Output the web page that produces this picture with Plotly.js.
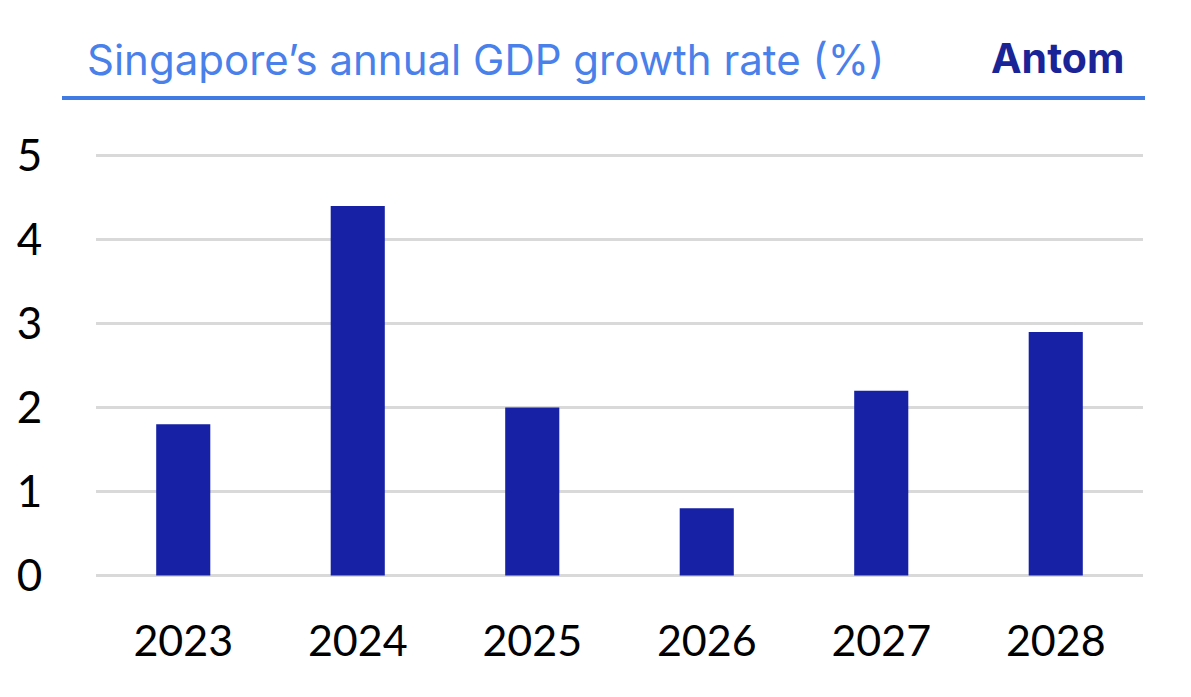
<!DOCTYPE html>
<html>
<head>
<meta charset="utf-8">
<script src="https://cdn.plot.ly/plotly-3.0.1.min.js"></script>
<style>
  html, body { margin: 0; padding: 0; background: #fff; }
  #chart { width: 1191px; height: 697px; }
</style>
</head>
<body>
<div id="chart"></div>
<script>
var years = ['2023', '2024', '2025', '2026', '2027', '2028'];
var growth = [1.8, 4.4, 2.0, 0.8, 2.2, 2.9];
var yTicks = [0, 1, 2, 3, 4, 5];

var titleText = 'Singapore\u2019s annual GDP growth rate (%)';
var logoText = 'Antom';

// plot box in pixels, used to place the header line and texts
// (not called "top": window.top is read-only)
var mLeft = 96, mRight = 48, mTop = 153, mBottom = 119;
var plotW = 1191 - mLeft - mRight;
var plotH = 697 - mTop - mBottom;

function px(x) { return (x - mLeft) / plotW; }
function py(y) { return (697 - mBottom - y) / plotH; }

var trace = {
    x: years,
    y: growth,
    type: 'bar',
    marker: { color: '#1621a6' },
    hoverinfo: 'x+y'
};

var layout = {
    width: 1191,
    height: 697,
    margin: { l: mLeft, r: mRight, t: mTop, b: mBottom },
    paper_bgcolor: '#fff',
    plot_bgcolor: '#fff',
    bargap: 0.69,
    showlegend: false,
    font: { family: 'Lato, "Liberation Sans", sans-serif', color: '#000' },
    xaxis: {
        type: 'category',
        showgrid: false,
        showline: false,
        zeroline: false,
        automargin: false,
        ticks: 'outside',
        ticklen: 25,
        tickcolor: 'rgba(0,0,0,0)',
        tickfont: { size: 43, color: '#000' }
    },
    yaxis: {
        range: [-0.03, 5.03],
        tickvals: yTicks,
        ticktext: yTicks.map(String),
        showgrid: true,
        gridcolor: '#d9d9d9',
        gridwidth: 3,
        zeroline: false,
        showline: false,
        automargin: false,
        ticks: 'outside',
        ticklen: 44,
        tickcolor: 'rgba(0,0,0,0)',
        tickfont: { size: 44, color: '#000' }
    },
    shapes: [{
        type: 'line',
        xref: 'paper', yref: 'paper',
        x0: px(62), x1: px(1145),
        y0: py(98), y1: py(98),
        line: { color: '#3f7be3', width: 4 }
    }],
    annotations: [{
        text: titleText,
        xref: 'paper', yref: 'paper',
        x: px(85), y: py(59),
        xanchor: 'left', yanchor: 'middle',
        showarrow: false,
        font: { family: 'Inter, "Open Sans", sans-serif', size: 42, color: '#4a80ea' }
    }, {
        text: '<b>' + logoText + '</b>',
        xref: 'paper', yref: 'paper',
        x: px(1126), y: py(58),
        xanchor: 'right', yanchor: 'middle',
        showarrow: false,
        font: { family: 'Inter, "Open Sans", sans-serif', size: 41, color: '#1a2496', weight: 800 }
    }]
};

Plotly.newPlot('chart', [trace], layout, { displayModeBar: false, staticPlot: true });
</script>
</body>
</html>
